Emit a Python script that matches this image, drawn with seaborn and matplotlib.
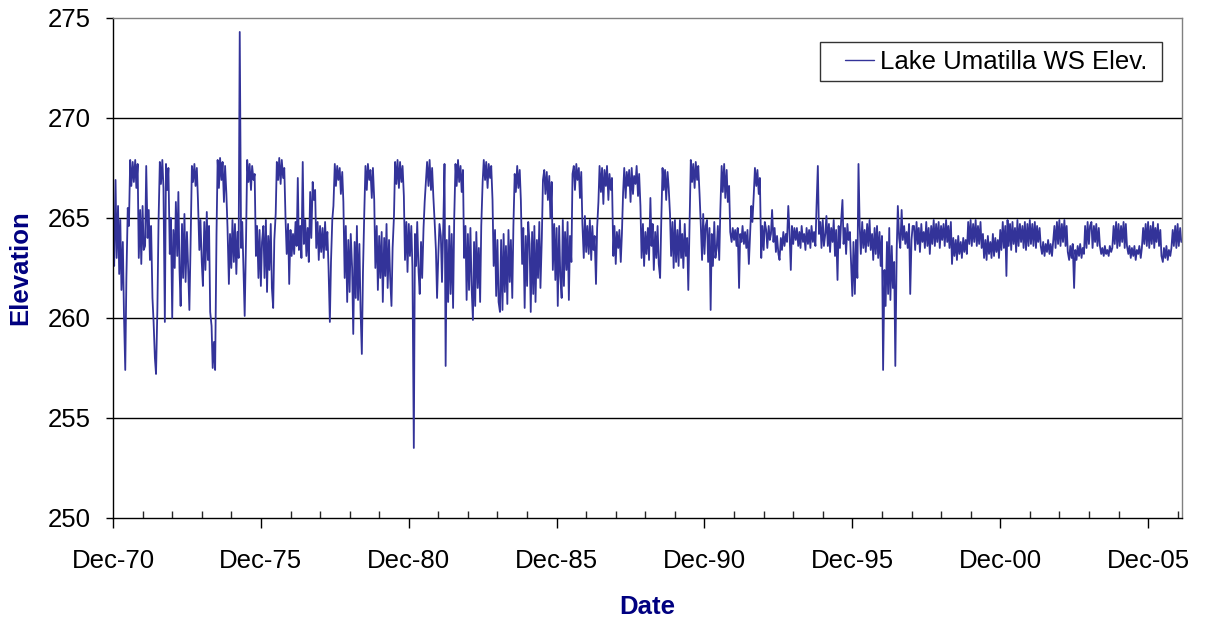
import datetime as dt
import numpy as np
import pandas as pd
import matplotlib.pyplot as plt
import matplotlib.dates as mdates
from matplotlib.ticker import MultipleLocator
import seaborn as sns

# Lake Umatilla water surface elevation (1st & 15th)
# Dec 1970 .. 1979
elev_1970s = [
    264.2, 262.6,
    266.9, 263.0, 265.6, 262.2, 264.9, 261.4, 263.8, 260.2, 257.4, 262.0, 265.5, 264.6, 267.9, 266.6, 267.8, 266.8, 267.9, 266.5, 267.7, 263.0, 265.4, 262.7, 265.6, 263.4,
    263.6, 267.6, 264.0, 265.4, 262.9, 264.6, 261.0, 259.8, 258.0, 257.2, 260.5, 264.8, 267.8, 266.7, 267.9, 266.5, 259.8, 267.7, 266.4, 267.5, 263.2, 265.0, 260.0, 264.4,
    262.5, 265.8, 263.1, 266.3, 262.4, 260.6, 264.7, 262.0, 265.2, 261.8, 264.3, 262.6, 260.4, 263.5, 267.6, 266.8, 267.7, 266.6, 267.5, 265.9, 263.4, 264.9, 262.8, 261.6,
    264.8, 262.4, 265.3, 262.9, 264.6, 260.3, 259.6, 257.5, 258.8, 257.4, 264.2, 267.9, 266.5, 268.0, 266.9, 267.8, 265.8, 267.6, 266.2, 264.5, 261.7, 264.2, 262.5, 264.9,
    262.8, 264.7, 262.2, 264.3, 263.0, 274.3, 263.5, 264.8, 262.4, 260.1, 264.0, 267.9, 266.8, 267.7, 266.4, 267.6, 266.9, 267.2, 263.1, 264.6, 262.0, 264.4, 261.6, 263.8,
    264.6, 262.0, 264.9, 261.3, 264.1, 262.4, 264.7, 261.5, 260.5, 263.9, 265.2, 267.8, 266.9, 268.0, 266.7, 267.9, 267.0, 267.5, 264.9, 263.2, 264.7, 261.7, 264.4, 263.1,
    264.2, 263.2, 264.8, 263.6, 267.0, 263.4, 264.6, 263.0, 267.8, 263.7, 264.9, 263.1, 264.5, 262.8, 266.3, 264.0, 266.8, 265.9, 266.4, 263.5, 264.8, 262.9, 264.6, 263.3,
    264.5, 263.0, 264.8, 263.4, 264.3, 262.6, 259.8, 262.8, 264.9, 265.6, 267.7, 266.6, 267.6, 266.9, 267.5, 266.2, 267.3, 265.8, 262.0, 264.6, 260.8, 263.9, 261.3, 264.2,
    262.5, 259.2, 263.8, 261.0, 264.6, 260.9, 263.7, 260.4, 258.2, 262.3, 265.4, 267.6, 266.4, 267.7, 266.9, 267.4, 266.0, 267.5, 265.9, 262.5, 264.6, 261.4, 264.1, 262.0,
]
# 1980 .. 1989
elev_1980s = [
    264.3, 260.8, 264.0, 262.1, 264.7, 261.5, 263.9, 262.0, 260.6, 263.5, 265.1, 267.8, 266.7, 267.9, 266.5, 267.8, 266.8, 267.6, 266.1, 262.9, 264.8, 262.3, 264.7, 263.1,
    264.6, 262.5, 253.5, 264.2, 262.6, 264.8, 262.3, 261.2, 263.8, 262.0, 264.5, 265.8, 266.9, 267.8, 266.6, 267.9, 266.4, 267.5, 266.0, 264.9, 263.4, 261.0, 263.2, 264.7,
    264.1, 261.8, 264.8, 267.7, 257.6, 263.9, 260.8, 264.6, 261.2, 264.2, 260.5, 265.0, 267.7, 266.6, 267.9, 266.8, 267.6, 266.3, 267.4, 263.0, 264.6, 260.9, 264.2, 261.4,
    264.5, 261.6, 259.9, 263.8, 260.6, 264.3, 261.5, 263.5, 260.8, 264.6, 266.8, 267.9, 266.9, 267.8, 266.5, 267.7, 267.0, 267.6, 265.9, 262.6, 264.4, 261.1, 263.9, 260.8,
    260.3, 263.9, 260.4, 264.2, 261.3, 263.6, 260.7, 264.4, 261.8, 263.9, 261.0, 264.6, 267.2, 266.3, 267.6, 266.5, 267.4, 265.9, 262.7, 264.5, 260.5, 264.1, 261.6, 264.8,
    263.7, 260.3, 264.3, 261.2, 264.6, 260.8, 263.9, 262.0, 264.8, 261.5, 264.0, 266.9, 267.4, 266.2, 267.3, 265.9, 267.1, 265.0, 266.8, 262.4, 264.7, 261.9, 264.5, 260.6,
    264.6, 262.1, 261.0, 264.9, 261.6, 264.3, 262.4, 264.8, 260.9, 264.1, 262.8, 267.2, 267.6, 266.4, 267.7, 266.9, 267.5, 266.0, 267.3, 264.7, 263.0, 265.1, 263.3, 264.6,
    263.2, 264.9, 262.9, 264.6, 263.4, 264.1, 261.7, 264.5, 265.8, 267.6, 266.3, 267.5, 265.7, 267.4, 266.6, 267.6, 265.9, 267.2, 266.4, 267.0, 263.1, 264.6, 262.7, 264.3,
    263.5, 264.4, 262.8, 264.2, 266.3, 267.5, 266.0, 267.3, 266.6, 267.4, 265.8, 267.5, 266.2, 267.1, 266.7, 267.6, 266.1, 267.2, 265.6, 263.0, 264.7, 262.6, 264.3, 263.2,
    264.5, 262.9, 266.0, 263.6, 264.7, 262.4, 264.3, 263.0, 264.6, 262.7, 262.0, 264.8, 267.5, 266.4, 267.4, 265.9, 267.3, 266.5, 265.2, 263.1, 264.8, 262.5, 264.9, 262.8,
]
# 1990 .. 1999
elev_1990s = [
    264.4, 262.6, 264.9, 263.0, 264.2, 262.5, 264.7, 263.1, 264.0, 261.4, 265.0, 267.9, 266.8, 267.7, 266.5, 267.8, 266.9, 267.6, 266.2, 264.8, 262.9, 265.2, 263.2, 264.6,
    264.9, 262.8, 264.5, 260.4, 264.2, 262.6, 264.8, 263.0, 263.5, 264.6, 262.9, 265.4, 267.6, 266.3, 267.7, 266.0, 267.4, 265.8, 266.6, 264.3, 263.8, 264.5, 263.9, 264.4,
    263.6, 264.5, 261.5, 264.2, 263.8, 264.6, 263.7, 264.3, 263.5, 264.4, 262.7, 264.1, 265.6, 264.8, 266.2, 267.5, 266.6, 267.4, 266.2, 267.0, 263.0, 264.6, 263.4, 264.8,
    264.4, 263.5, 264.6, 263.9, 264.2, 265.4, 263.8, 264.5, 263.3, 264.1, 263.2, 262.9, 264.0, 263.4, 264.3, 263.6, 264.2, 263.8, 265.6, 264.4, 262.4, 264.6, 263.7, 264.5,
    263.9, 264.5, 263.6, 264.3, 263.5, 264.6, 263.8, 264.2, 263.4, 264.5, 263.7, 264.4, 263.5, 264.6, 263.8, 264.3, 263.6, 265.6, 267.6, 264.2, 264.8, 263.5, 264.9, 263.6,
    264.2, 265.1, 263.6, 264.7, 263.3, 264.5, 263.8, 264.9, 263.1, 264.4, 261.9, 264.6, 263.5, 264.8, 265.9, 263.7, 264.5, 263.2, 264.7, 263.9, 264.3, 262.8, 261.1, 263.8,
    261.2, 263.9, 262.0, 267.7, 264.6, 263.2, 264.8, 263.5, 264.4, 263.3, 264.7, 263.6, 264.9, 263.4, 264.2, 262.9, 264.5, 263.2, 264.6, 263.0, 264.3, 262.6, 264.1, 257.4,
    262.4, 260.6, 263.8, 261.2, 264.5, 260.9, 263.6, 261.5, 262.8, 257.6, 263.4, 265.6, 264.0, 263.5, 265.4, 263.9, 264.6, 263.7, 264.3, 263.5, 264.7, 261.2, 263.9, 264.6,
    264.6, 263.4, 264.8, 263.7, 264.5, 263.3, 264.7, 263.8, 264.3, 263.5, 264.8, 263.6, 264.5, 263.2, 264.6, 263.7, 264.9, 263.6, 264.7, 263.8, 264.8, 263.5, 264.6, 263.9,
    264.7, 263.6, 264.9, 263.8, 264.6, 263.5, 264.8, 262.7, 264.0, 263.1, 263.9, 262.9, 264.1, 263.2, 263.8, 263.0, 264.0, 263.3, 263.9, 263.2, 264.8, 263.7, 264.9, 263.6,
]
# 2000 .. Jan 2007
elev_2000s = [
    264.7, 263.8, 264.9, 263.6, 264.6, 263.7, 264.8, 263.5, 264.2, 263.0, 263.9, 262.9, 264.1, 263.2, 263.8, 263.0, 264.2, 263.1, 264.0, 263.3, 263.9, 263.0, 264.4, 263.4,
    264.8, 263.5, 264.6, 262.1, 264.9, 263.6, 264.7, 263.4, 264.8, 263.7, 264.5, 263.3, 264.9, 263.6, 264.7, 263.8, 264.6, 263.5, 264.8, 263.4, 264.7, 263.6, 264.9, 263.7,
    264.7, 263.6, 264.8, 263.5, 264.6, 263.8, 264.5, 263.6, 263.2, 263.8, 263.1, 263.7, 263.3, 263.9, 263.2, 263.7, 263.1, 263.8, 264.6, 263.5, 264.8, 263.7, 264.9, 263.6,
    264.7, 263.8, 264.9, 263.6, 264.6, 263.3, 262.9, 263.6, 263.0, 263.7, 261.5, 263.4, 262.9, 263.6, 263.1, 263.7, 263.0, 263.5, 263.2, 264.6, 263.5, 264.8, 263.7, 264.6,
    264.8, 263.5, 264.6, 263.8, 264.7, 263.6, 264.5, 263.6, 263.2, 263.5, 263.1, 263.6, 263.2, 263.4, 263.1, 263.6, 263.3, 263.5, 264.6, 263.7, 264.8, 263.5, 264.7, 263.6,
    264.6, 263.8, 264.8, 263.5, 264.7, 263.6, 263.2, 263.6, 263.0, 263.5, 263.1, 263.6, 262.9, 263.4, 263.2, 263.6, 263.0, 263.5, 264.5, 263.7, 264.7, 263.6, 264.8, 263.5,
    264.6, 263.7, 264.8, 263.5, 264.5, 263.8, 264.7, 263.6, 264.4, 263.1, 262.8, 263.5, 263.0, 263.6, 262.9, 263.4, 263.1, 263.5, 264.4, 263.6, 264.6, 263.5, 264.7, 263.6,
    264.5, 263.8,
]

elev = elev_1970s + elev_1980s + elev_1990s + elev_2000s
dates = pd.date_range("1970-12-01", periods=len(elev), freq="SMS")
df = pd.DataFrame({"Date": dates, "Elevation": elev})

sns.set_style("white")
plt.rcParams["font.family"] = ["Liberation Sans", "DejaVu Sans"]

fig = plt.figure(figsize=(12.05, 6.19), dpi=100)
ax = fig.add_axes([0.0938, 0.1632, 0.8872, 0.8078])

# trailing no-break space gives the extra right padding seen in the legend box
sns.lineplot(data=df, x="Date", y="Elevation", ax=ax, color="#333399",
             linewidth=1.3, label="Lake Umatilla WS Elev.\u00a0")

ax.set_ylim(250, 275)
ax.yaxis.set_major_locator(MultipleLocator(5))
ax.set_xlim(dt.datetime(1970, 12, 1), dt.datetime(2007, 1, 25))
ax.xaxis.set_major_locator(mdates.YearLocator(5, month=12, day=1))
ax.xaxis.set_minor_locator(mdates.YearLocator(1, month=12, day=1))
ax.xaxis.set_major_formatter(mdates.DateFormatter("%b-%y"))

for y in [255, 260, 265, 270]:
    ax.axhline(y, color="black", linewidth=1.0, zorder=0)

ax.tick_params(axis="both", which="major", labelsize=18.5, colors="black")
ax.tick_params(axis="y", which="major", direction="out", length=5, width=1, left=True, pad=11)
ax.tick_params(axis="x", which="major", direction="out", length=7, width=1, bottom=True, pad=15)
ax.tick_params(axis="x", which="minor", direction="in", length=5, width=1, bottom=True)

for side in ["left", "bottom"]:
    ax.spines[side].set_color("black")
    ax.spines[side].set_linewidth(1.0)
for side in ["right", "top"]:
    ax.spines[side].set_visible(True)
    ax.spines[side].set_color("#808080")
    ax.spines[side].set_linewidth(1.0)

ax.set_xlabel("Date", fontsize=18.5, fontweight="bold", color="#000080", labelpad=16)
ax.set_ylabel("Elevation", fontsize=18.5, fontweight="bold", color="#000080", labelpad=11)

leg = ax.legend(loc="upper right", bbox_to_anchor=(0.981, 0.952), fontsize=18.5,
                frameon=True, fancybox=False, shadow=False, borderpad=0.3,
                handlelength=1.8, handletextpad=0.23, borderaxespad=0,
                labelcolor="black")
leg.get_frame().set_edgecolor("black")
leg.get_frame().set_linewidth(1.0)
# short legend stroke sitting next to the text, with a blank gap on its left
for line in leg.get_lines():
    xd = np.asarray(line.get_xdata(), dtype=float)
    yd = np.asarray(line.get_ydata(), dtype=float)
    x0, x1 = xd.min(), xd.max()
    line.set_data([x0 + 0.38 * (x1 - x0), x1], [yd[0], yd[0]])
    line.set_linewidth(1.0)

fig.savefig("out.png", dpi=100)
